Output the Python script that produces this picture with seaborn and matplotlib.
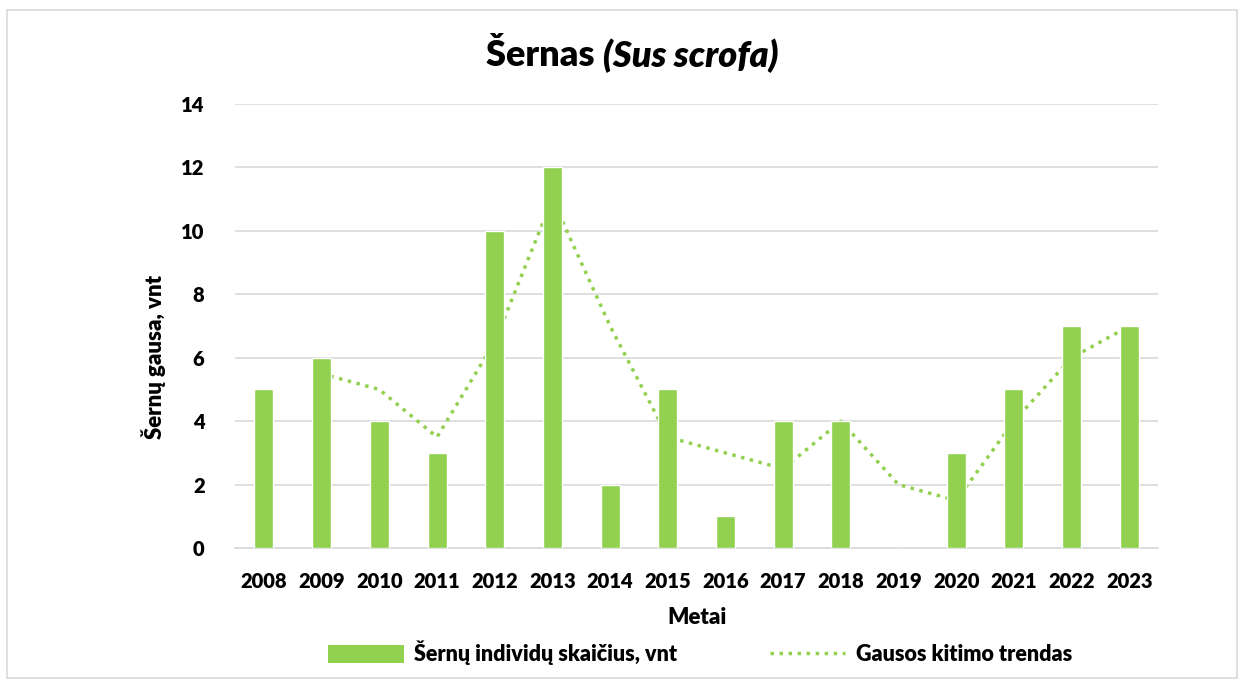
import numpy as np
import pandas as pd
import matplotlib.pyplot as plt
import seaborn as sns
from matplotlib.patches import Patch, Rectangle
from matplotlib.lines import Line2D

# chart data
years = ["2008", "2009", "2010", "2011", "2012", "2013", "2014", "2015",
         "2016", "2017", "2018", "2019", "2020", "2021", "2022", "2023"]
counts = [5, 6, 4, 3, 10, 12, 2, 5, 1, 4, 4, 0, 3, 5, 7, 7]
trend_years = years[1:]
trend_values = [5.5, 5, 3.5, 6.5, 11, 7, 3.5, 3, 2.5, 4, 2, 1.5, 4, 6, 7]

green = "#92D050"
sns.set_theme(style="white")
plt.rcParams["font.family"] = ["Lato", "DejaVu Sans"]
plt.rcParams["text.color"] = "black"

df = pd.DataFrame({"year": years, "count": counts})
trend_x = [years.index(y) for y in trend_years]

fig = plt.figure(figsize=(12.44, 6.8), dpi=100)
ax = fig.add_axes([0.189, 0.194, 0.742, 0.653])

# chart border
fig.patches.append(Rectangle((0.006, 0.003), 0.988, 0.983, transform=fig.transFigure,
                             fill=False, edgecolor="#D9D9D9", linewidth=1.2))

sns.lineplot(x=trend_x, y=trend_values, ax=ax, color=green, linestyle=(0, (1, 1.6)),
             linewidth=2.5, zorder=2)
sns.barplot(data=df, x="year", y="count", ax=ax, color=green, width=0.33,
            saturation=1, zorder=3)

ax.set_ylim(0, 14)
ax.set_yticks(np.arange(0, 15, 2))
ax.set_xlim(-0.5, len(years) - 0.5)
ax.yaxis.grid(True, color="#D9D9D9", linewidth=1.2, zorder=0)
ax.set_axisbelow(True)
for side in ["top", "right", "left"]:
    ax.spines[side].set_visible(False)
ax.spines["bottom"].set_color("#D9D9D9")
ax.spines["bottom"].set_linewidth(1.2)
ax.tick_params(axis="both", length=0, labelsize=14.5, labelcolor="black")
ax.xaxis.set_tick_params(pad=17)
ax.yaxis.set_tick_params(pad=22)
for lbl in ax.get_xticklabels() + ax.get_yticklabels():
    lbl.set_fontweight("heavy")

ax.set_xlabel("Metai", fontsize=16, fontweight="heavy", labelpad=12, color="black")
ax.set_ylabel("Šernų gausa, vnt", fontsize=16, fontweight="heavy", color="black")
ax.yaxis.set_label_coords(-0.075, 0.43)

fig.text(0.485, 0.918, "Šernas ", fontsize=26, fontweight="heavy", ha="right",
         va="center", color="black")
fig.text(0.485, 0.918, "(Sus scrofa)", fontsize=26, fontweight="heavy", style="italic",
         ha="left", va="center", color="black")

handles = [Patch(facecolor=green, edgecolor="none"),
           Line2D([0], [0], color=green, linestyle=(0, (1, 1.6)), linewidth=2.5)]
labels = ["Šernų individų skaičius, vnt", "Gausos kitimo trendas"]
fig.legend(handles, labels, loc="center", bbox_to_anchor=(0.563, 0.04), ncol=2,
           frameon=False, prop={"size": 15.5, "weight": "heavy"}, columnspacing=4.3,
           handlelength=3.5, handleheight=0.9, handletextpad=0.5, labelcolor="black")

fig.savefig("out.png", dpi=100)
